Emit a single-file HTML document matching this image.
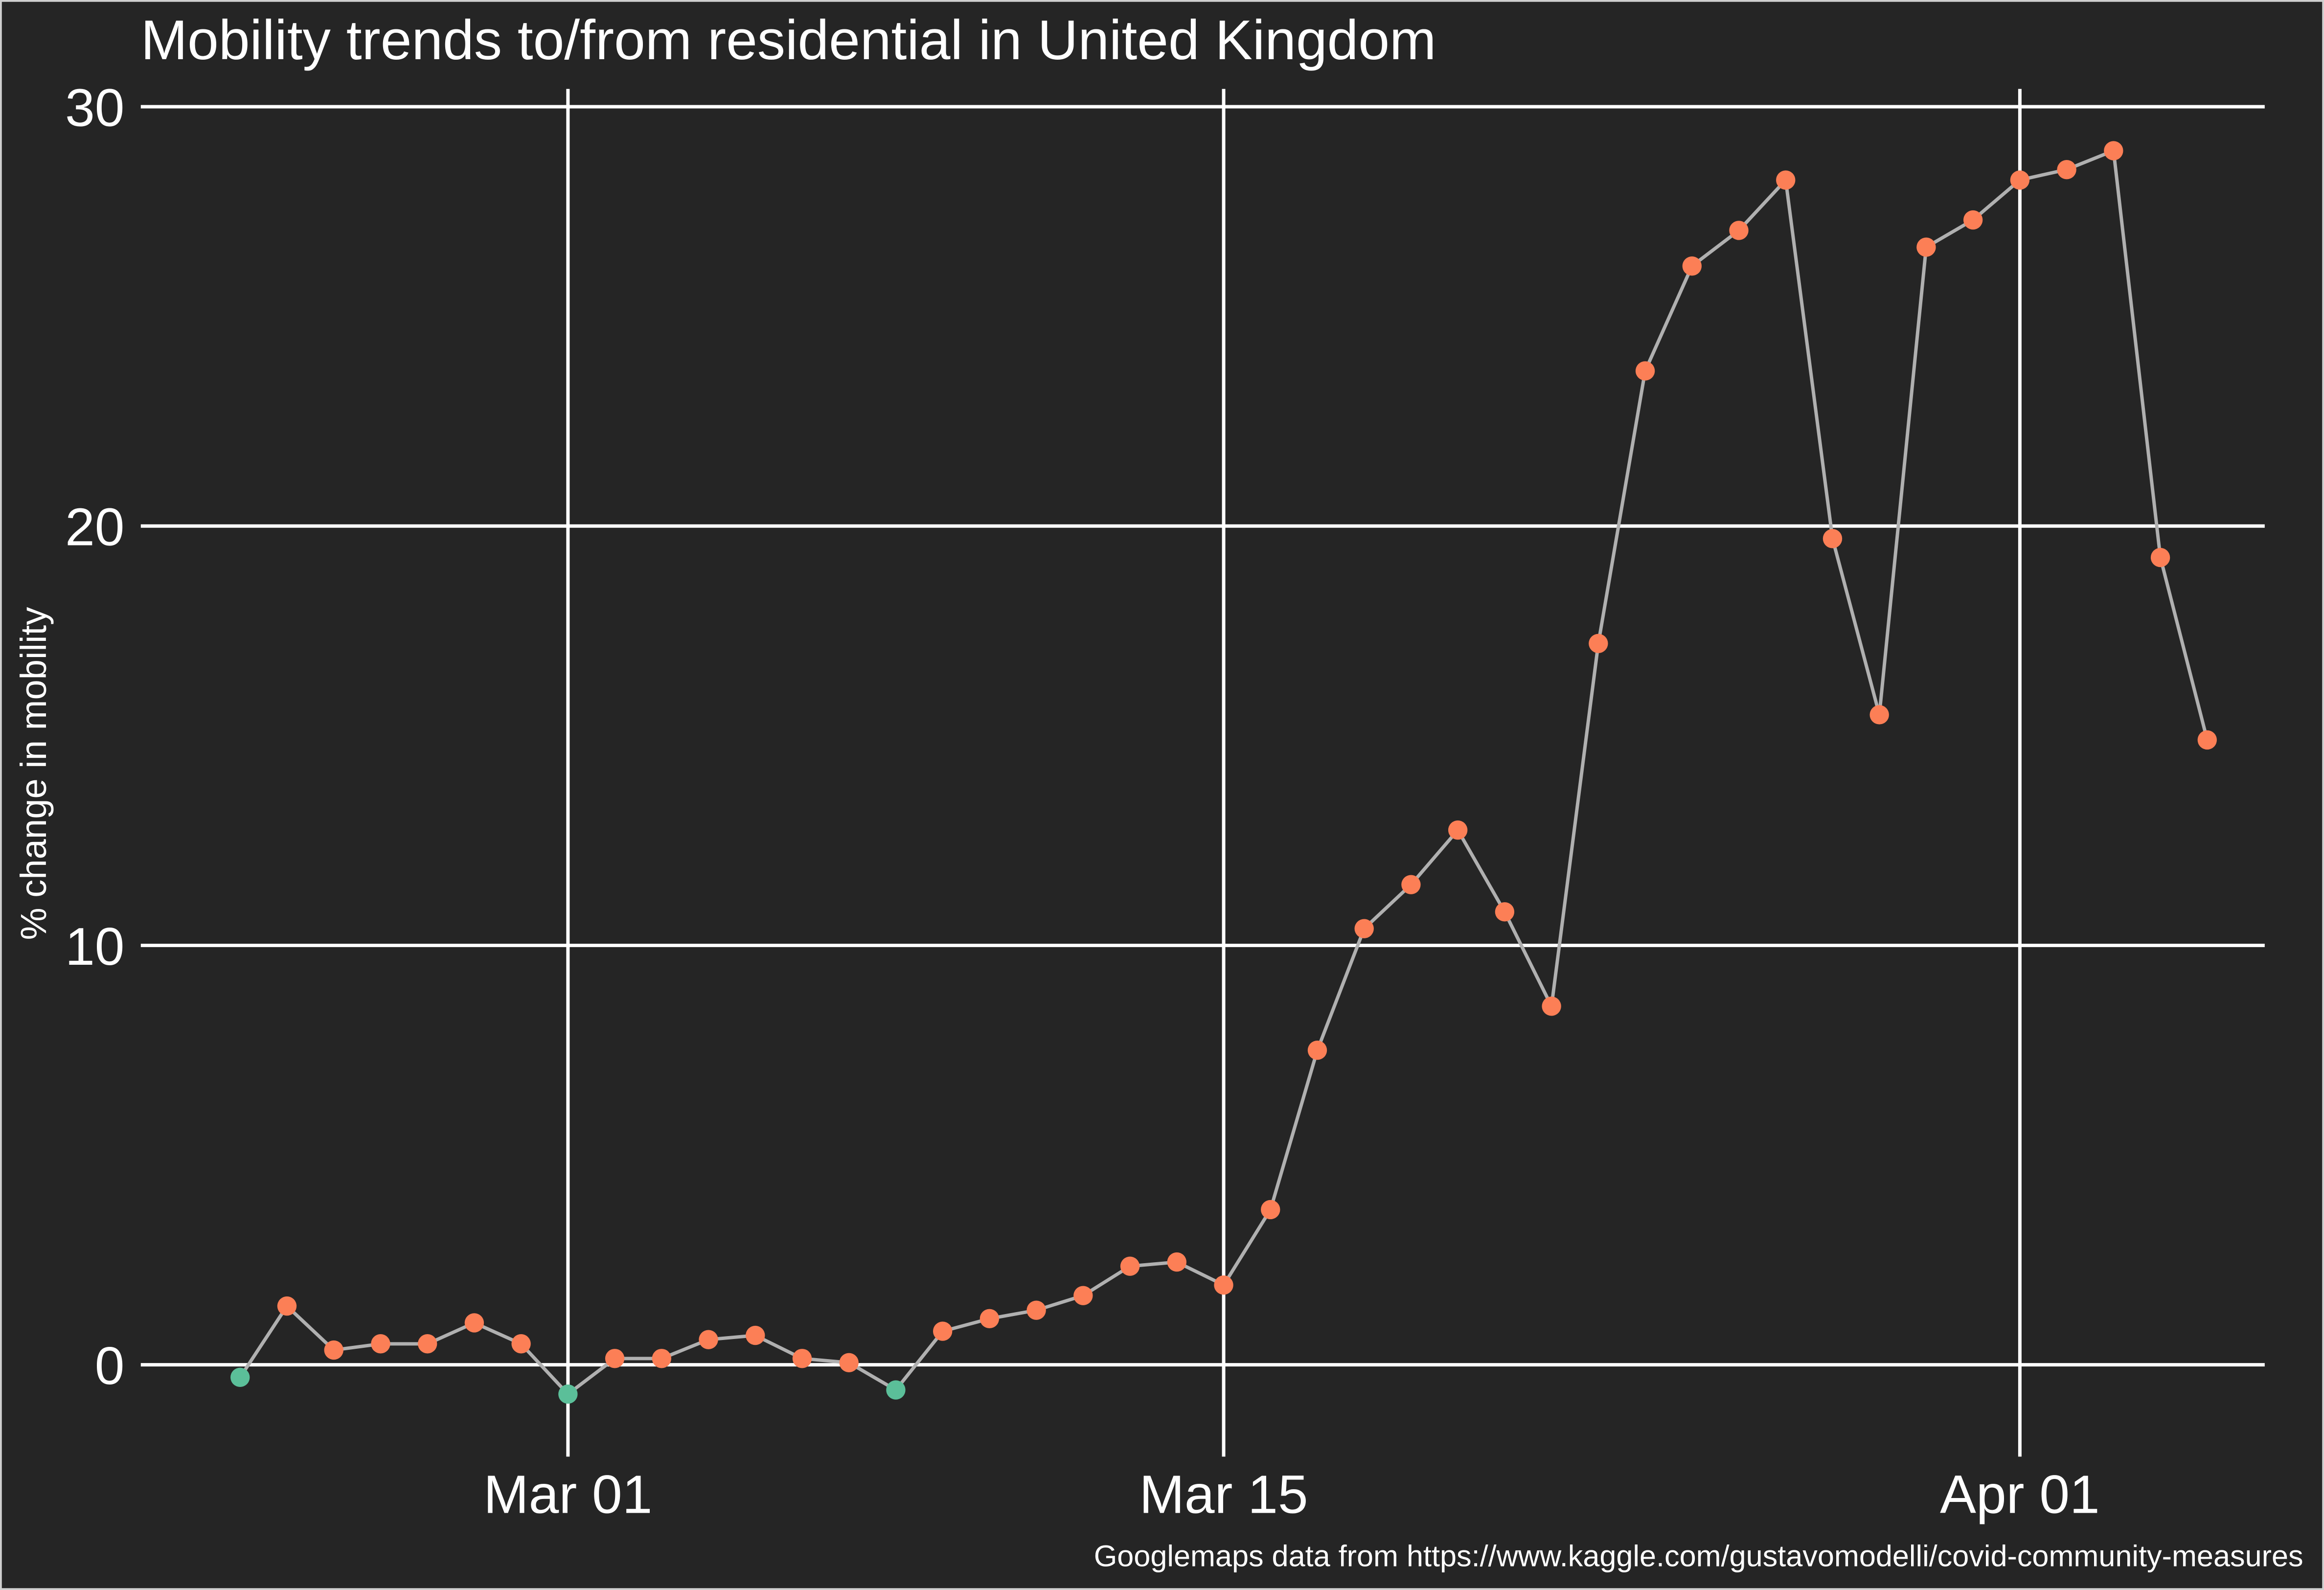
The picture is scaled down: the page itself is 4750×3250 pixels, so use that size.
<!DOCTYPE html>
<html><head><meta charset="utf-8"><style>
html,body{margin:0;padding:0;background:#252525;}
svg{display:block;}
text{font-family:"Liberation Sans",Arial,sans-serif;}
</style></head><body>
<svg id="chart" width="4750" height="3250" viewBox="0 0 1568 1073" preserveAspectRatio="none" xmlns="http://www.w3.org/2000/svg">
<rect x="0" y="0" width="1568" height="1073" fill="#252525"/>
<rect x="0.6" y="0.6" width="1566.8" height="1071.8" fill="none" stroke="#cfcfcf" stroke-width="1.3"/>
<text x="95" y="40" font-size="37.8" fill="#ffffff">Mobility trends to/from residential in United Kingdom</text>
<g id="grid"></g>
<g id="series"></g>
<text transform="translate(31,522) rotate(-90)" text-anchor="middle" font-size="24.5" fill="#ffffff">% change in mobility</text>
<text x="1554" y="1057" text-anchor="end" font-size="20.2" fill="#ffffff">Googlemaps data from https://www.kaggle.com/gustavomodelli/covid-community-measures</text>
</svg>
<script>
const dayOffsets = [];
const values = [-0.3,1.4,0.35,0.5,0.5,1.0,0.5,-0.7,0.15,0.15,0.6,0.7,0.15,0.05,-0.6,0.8,1.1,1.3,1.65,2.35,2.45,1.9,3.7,7.5,10.4,11.45,12.75,10.8,8.55,17.2,23.7,26.2,27.05,28.25,19.7,15.5,26.65,27.3,28.25,28.5,28.95,19.25,14.9];
const yTicks = [0,10,20,30];
const xTickDays = [7,21,38];
const xTickLabels = ["Mar 01","Mar 15","Apr 01"];
for (let i=0;i<values.length;i++) dayOffsets.push(i); // days since Feb 23

const NS="http://www.w3.org/2000/svg";
function xs(d){return 162 + d*31.6;}
function ys(v){return 921 - v*28.3;}
const grid=document.getElementById('grid'), series=document.getElementById('series');
function mk(tag,attrs,parent){const e=document.createElementNS(NS,tag);for(const k in attrs)e.setAttribute(k,attrs[k]);parent.appendChild(e);return e;}

yTicks.forEach(t=>{
  const l=mk('line',{x1:95,x2:1528,y1:ys(t),y2:ys(t),stroke:'#ffffff','stroke-width':2.3},grid);
  
  
  const tx=mk('text',{x:84,y:ys(t)+13,'text-anchor':'end','font-size':36,fill:'#ffffff'},grid);
  tx.textContent=t;
  
  
});
xTickDays.forEach((d,i)=>{
  const l=mk('line',{x1:xs(d),x2:xs(d),y1:60,y2:983,stroke:'#ffffff','stroke-width':2.3},grid);
  
  
  const tx=mk('text',{x:xs(d),y:1021,'text-anchor':'middle','font-size':36.6,fill:'#ffffff'},grid);
  tx.textContent=xTickLabels[i];
  
  
});
const pts=values.map((v,i)=>xs(dayOffsets[i]).toFixed(1)+','+ys(v).toFixed(1)).join(' ');
const pl=mk('polyline',{points:pts,fill:'none',stroke:'#b0b0b0','stroke-width':2.3},series);


values.forEach((v,i)=>{
  const c=mk('circle',{cx:xs(dayOffsets[i]),cy:ys(v),r:6.5,fill:v<0?'#5bbf99':'#fc7f56'},series);
  
  
});
</script>
</body></html>
